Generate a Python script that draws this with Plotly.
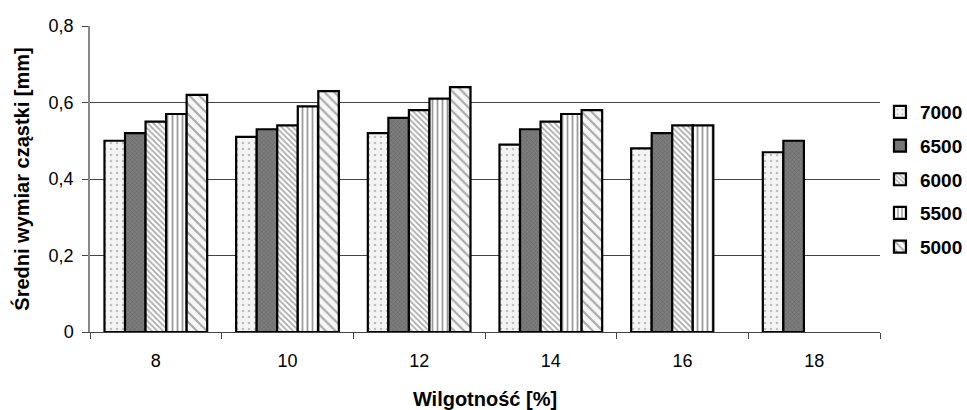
import plotly.graph_objects as go

categories = ["8", "10", "12", "14", "16", "18"]
series_names = ["7000", "6500", "6000", "5500", "5000"]
v7000 = [0.50, 0.51, 0.52, 0.49, 0.48, 0.47]
v6500 = [0.52, 0.53, 0.56, 0.53, 0.52, 0.50]
v6000 = [0.55, 0.54, 0.58, 0.55, 0.54, None]
v5500 = [0.57, 0.59, 0.61, 0.57, 0.54, None]
v5000 = [0.62, 0.63, 0.64, 0.58, None, None]
values = [v7000, v6500, v6000, v5500, v5000]
y_ticks = [0, 0.2, 0.4, 0.6, 0.8]
y_ticktext = ["0", "0,2", "0,4", "0,6", "0,8"]

patterns = [
    dict(shape=".", bgcolor="#f4f4f4", fgcolor="#8a8a8a", size=6, solidity=0.15, fillmode="overlay"),
    dict(shape="x", bgcolor="#7c7c7c", fgcolor="#505050", size=3, solidity=0.3, fillmode="overlay"),
    dict(shape="\\", bgcolor="#ffffff", fgcolor="#555555", size=4, solidity=0.45, fillmode="overlay"),
    dict(shape="|", bgcolor="#ffffff", fgcolor="#333333", size=5, solidity=0.35, fillmode="overlay"),
    dict(shape="\\", bgcolor="#f6f6f6", fgcolor="#5a5a5a", size=7, solidity=0.3, fillmode="overlay"),
]

fig = go.Figure()
for name, vals, pat in zip(series_names, values, patterns):
    fig.add_trace(go.Bar(
        x=categories, y=vals, name=name, legendgroup=name,
        marker=dict(color=pat["bgcolor"], line=dict(color="black", width=2.2), pattern=pat),
    ))

fig.update_layout(
    width=967, height=410,
    margin=dict(l=90, r=87, t=26, b=78, autoexpand=False),
    paper_bgcolor="white", plot_bgcolor="white",
    barmode="group", bargap=0.22, bargroupgap=0,
    font=dict(family="Liberation Sans, Arial, sans-serif", size=18, color="black"),
    showlegend=True,
    legend=dict(xref="container", yref="container", x=0.91, xanchor="left",
                y=1 - 93 / 410, yanchor="top",
                font=dict(size=19, color="black", weight="bold"), tracegroupgap=6,
                bgcolor="rgba(0,0,0,0)", itemwidth=30),
    xaxis=dict(
        type="category", showgrid=False, showline=True, linecolor="#444444", linewidth=1,
        ticks="outside", tickson="boundaries", ticklen=6, tickcolor="#444444",
        tickfont=dict(size=18), ticklabelstandoff=12,
        title=dict(text="<b>Wilgotność [%]</b>", font=dict(size=20), standoff=22),
    ),
    yaxis=dict(
        range=[0, 0.8], tickvals=y_ticks, ticktext=y_ticktext,
        showgrid=True, gridcolor="#444444", gridwidth=1,
        showline=True, linecolor="#888888", linewidth=1.5,
        ticks="outside", ticklen=6, tickcolor="#444444",
        tickfont=dict(size=18), ticklabelstandoff=5, zeroline=False,
        title=dict(text="<b>Średni wymiar cząstki [mm]</b>", font=dict(size=20), standoff=14),
    ),
)

fig.write_html("out.html")
